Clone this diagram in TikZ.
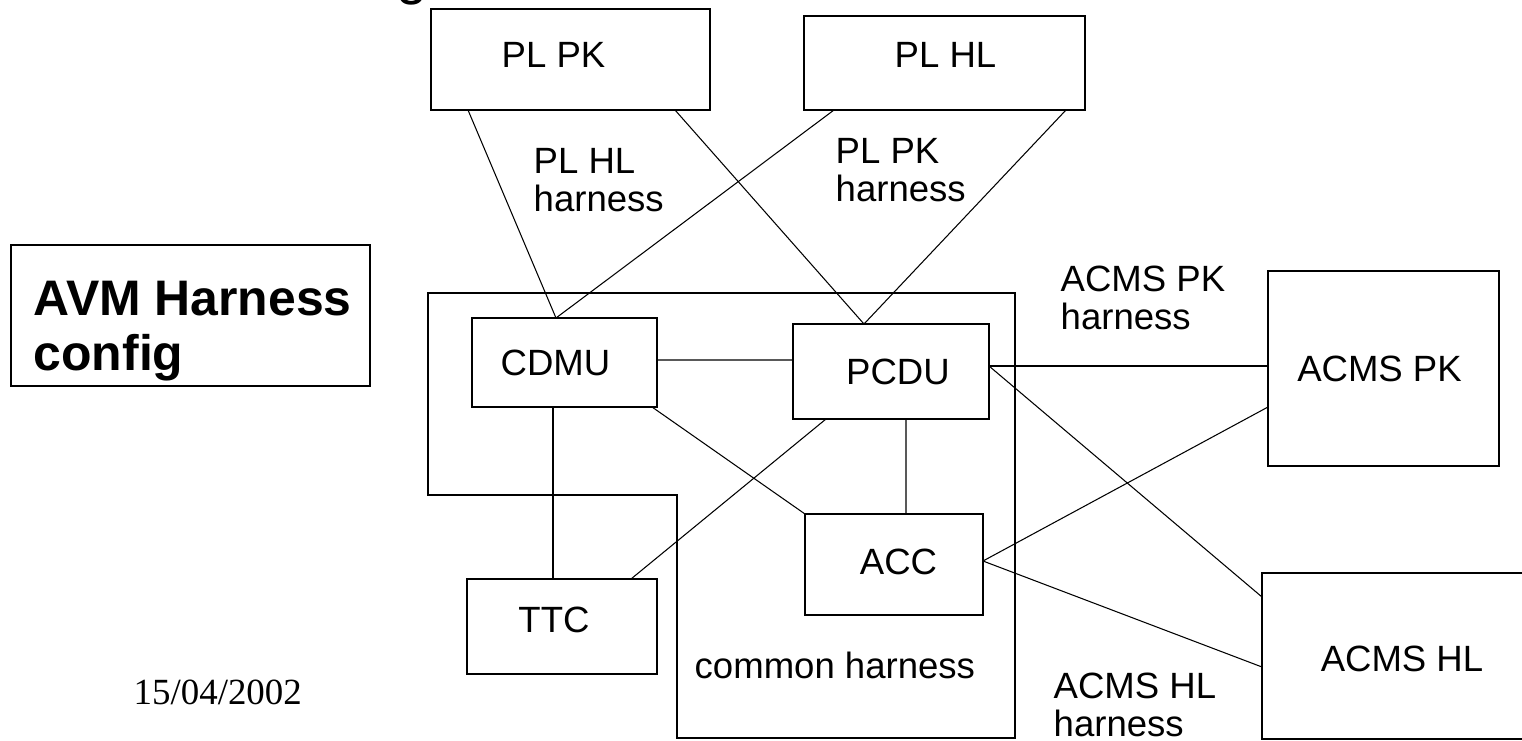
\documentclass[tikz,border=0pt]{standalone}
\usepackage{fontspec}
\setmainfont{Liberation Serif}
\setsansfont{Liberation Sans}
\usepackage{tikz}

\tikzset{
  blk/.style={draw, line width=0.35pt, inner sep=0pt, outer sep=0pt},
  lbl/.style={font=\sffamily\fontsize{10.4}{10.8}\selectfont, inner sep=0pt, align=left},
  wire/.style={line width=0.3pt},
}

\begin{document}
\begin{tikzpicture}[x=0.1mm, y=-0.1mm]
  % page frame, in pixel units (y grows downwards)
  \useasboundingbox (0,0) rectangle (1522,741);

  % --- cut-off title fragment ---
  \node[font=\sffamily\fontsize{16}{16}\selectfont, anchor=base west, inner sep=0pt] (ttl) at (396,-7) {g};

  % --- title box ---
  \node[draw, line width=0.7pt, minimum width=35.9mm, minimum height=14.1mm] (avm) at (190.5,315.5) {};
  \node[font=\sffamily\bfseries\fontsize{14.2}{15.9}\selectfont, inner sep=0pt, align=left,
        anchor=north west] (avmtxt) at (33,280) {AVM Harness\\config};

  % --- common harness outline ---
  \draw[wire] (428,293) -- (1015,293) -- (1015,738) -- (677,738) -- (677,495) -- (428,495) -- cycle;

  % --- units ---
  \node[blk, minimum width=27.9mm, minimum height=10.1mm,
        label={[lbl, xshift=-1.7mm, yshift=0.5mm]center:PL PK}] (plpk) at (570.5,59.5) {};
  \node[blk, minimum width=28.1mm, minimum height=9.4mm,
        label={[lbl, xshift=0.1mm, yshift=0.8mm]center:PL HL}] (plhl) at (944.5,63) {};
  \node[blk, minimum width=18.5mm, minimum height=8.9mm,
        label={[lbl, xshift=-0.9mm]center:CDMU}] (cdmu) at (564.5,362.5) {};
  \node[blk, minimum width=19.6mm, minimum height=9.5mm,
        label={[lbl, xshift=0.7mm]center:PCDU}] (pcdu) at (891,371.5) {};
  \node[blk, minimum width=17.8mm, minimum height=10.1mm,
        label={[lbl, xshift=0.45mm, yshift=0.3mm]center:ACC}] (acc) at (894,564.5) {};
  \node[blk, minimum width=19mm, minimum height=9.5mm,
        label={[lbl, xshift=-0.8mm, yshift=0.65mm]center:TTC}] (ttc) at (562,626.5) {};
  \node[blk, minimum width=23.1mm, minimum height=19.5mm,
        label={[lbl, xshift=-0.4mm]center:ACMS PK}] (acmspk) at (1383.5,368.5) {};
  \node[blk, minimum width=27.8mm, minimum height=16.6mm,
        label={[lbl, xshift=0.1mm, yshift=-0.3mm]center:ACMS HL}] (acmshl) at (1401,656) {};

  % --- harness labels ---
  \node[lbl, anchor=north west] (plhlhar) at (533,148) {PL HL\\harness};
  \node[lbl, anchor=north west] (plpkhar) at (835,138) {PL PK\\harness};
  \node[lbl, anchor=north west] (acmspkhar) at (1060,265) {ACMS PK\\harness};
  \node[lbl, anchor=north west] (acmshlhar) at (1053,672) {ACMS HL\\harness};
  \node[lbl, anchor=base west] (comhar) at (694,678) {common harness};

  % --- date ---
  \node[font=\fontsize{10.5}{10.5}\selectfont, inner sep=0pt, anchor=base west] (date) at (133,704) {15/04/2002};

  % --- harness wires ---
  \draw[wire] ([xshift=3.7mm]plpk.south west) -- ([xshift=-0.85mm]cdmu.north);
  \draw[wire] ([xshift=3.0mm]plhl.south west) -- ([xshift=-0.85mm]cdmu.north);
  \draw[wire] ([xshift=-3.5mm]plpk.south east) -- ([xshift=-2.7mm]pcdu.north);
  \draw[wire] ([xshift=26.2mm]plhl.south west) -- ([xshift=-2.7mm]pcdu.north);
  \draw[wire] ([yshift=0.25mm]cdmu.east) -- ([yshift=1.15mm]pcdu.west);
  \draw[wire] ([xshift=-1.15mm]cdmu.south) -- ([xshift=-0.9mm]ttc.north);
  \draw[wire] ([xshift=-0.5mm]cdmu.south east) -- (acc.north west);
  \draw[wire] ([xshift=-2.6mm]ttc.north east) -- ([xshift=3.3mm]pcdu.south west);
  \draw[wire] ([xshift=1.5mm]pcdu.south) -- ([xshift=1.2mm]acc.north);
  \draw[wire] ([yshift=0.55mm]pcdu.east) -- ([yshift=0.25mm]acmspk.west);
  \draw[wire] ([yshift=0.55mm]pcdu.east) -- ([yshift=5.9mm]acmshl.west);
  \draw[wire] ([yshift=0.35mm]acc.east) -- ([yshift=-3.85mm]acmspk.west);
  \draw[wire] ([yshift=0.35mm]acc.east) -- ([yshift=-1.1mm]acmshl.west);
\end{tikzpicture}
\end{document}
